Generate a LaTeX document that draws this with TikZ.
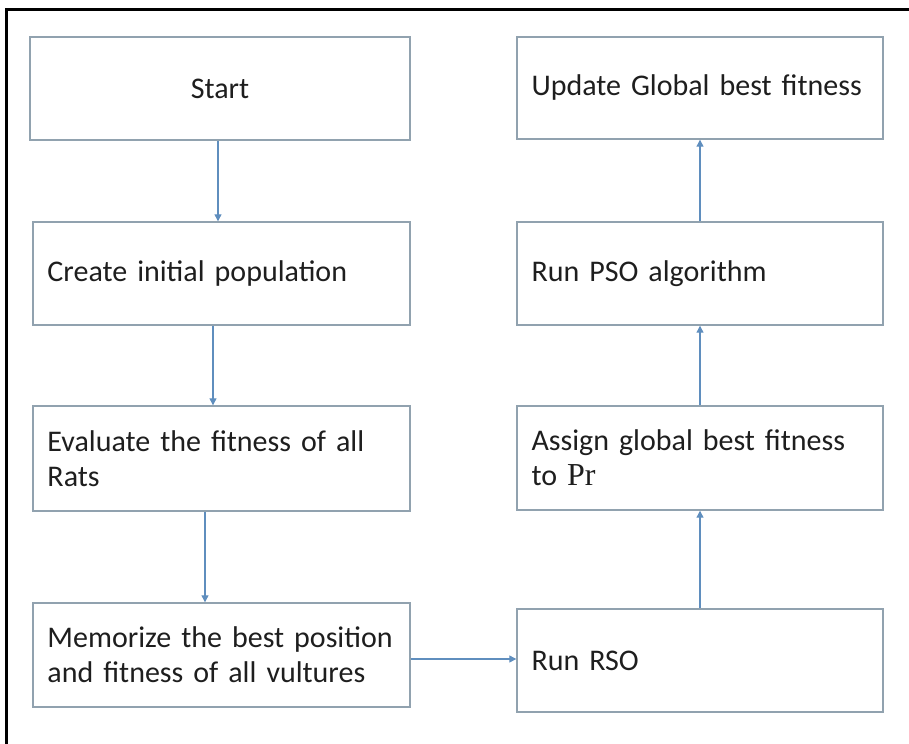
\documentclass[tikz,border=0pt]{standalone}
\usepackage{fontspec}
\setmainfont{Carlito}
\newfontfamily\prfont{Liberation Serif}
\usetikzlibrary{arrows.meta}
\definecolor{boxline}{RGB}{145,162,175}
\definecolor{arrline}{RGB}{95,142,190}
\definecolor{txt}{RGB}{30,30,30}
\begin{document}
\begin{tikzpicture}[x=1bp,y=-1bp,
  box/.style={draw=boxline,line width=1.4bp,minimum height=103bp,inner xsep=14.5bp,inner ysep=0bp,
    align=left,text=txt,font=\fontsize{30bp}{35bp}\selectfont},
  lbox/.style={box,minimum width=377bp,text width=348bp},
  rbox/.style={box,minimum width=366bp,text width=337bp},
  arr/.style={draw=arrline,line width=1.2bp,-{Triangle[width=7bp,length=7bp]}}]
\useasboundingbox (0,0) rectangle (909,744);
% outer frame (only left and top edges visible)
\draw[line width=3bp,black] (6,744) -- (6,10) -- (909,10);
% left column
\node[lbox,minimum width=380bp,align=center] (start) at (220,88.5) {Start};
\node[lbox] (create) at (221.5,273.5) {Create initial population};
\node[lbox,minimum height=105bp] (eval) at (221.5,458.5) {Evaluate the fitness of all\\Rats};
\node[lbox,minimum height=104bp] (memo) at (221.5,655) {Memorize the best position\\and fitness of all vultures};
% right column
\node[rbox,minimum height=102bp] (update) at (700,88) {Update Global best fitness};
\node[rbox] (pso) at (700,273.5) {Run PSO algorithm};
\node[rbox,minimum height=104bp] (assign) at (700,458) {Assign global best fitness\\to {\prfont\fontsize{32bp}{35bp}\selectfont Pr}};
\node[rbox] (rso) at (700,660.5) {Run RSO};
% connectors
\draw[arr] ([xshift=-2bp]start.south) -- ([xshift=-2bp]start.south |- create.north);
\draw[arr] ([xshift=-8.5bp]create.south) -- ([xshift=-8.5bp]create.south |- eval.north);
\draw[arr] ([xshift=-16.5bp]eval.south) -- ([xshift=-16.5bp]eval.south |- memo.north);
\draw[arr] ([yshift=-4bp]memo.east) -- ([yshift=-4bp]memo.east -| rso.west);
\draw[arr] (rso.north) -- (assign.south);
\draw[arr] (assign.north) -- (pso.south);
\draw[arr] (pso.north) -- (update.south);
\end{tikzpicture}
\end{document}
